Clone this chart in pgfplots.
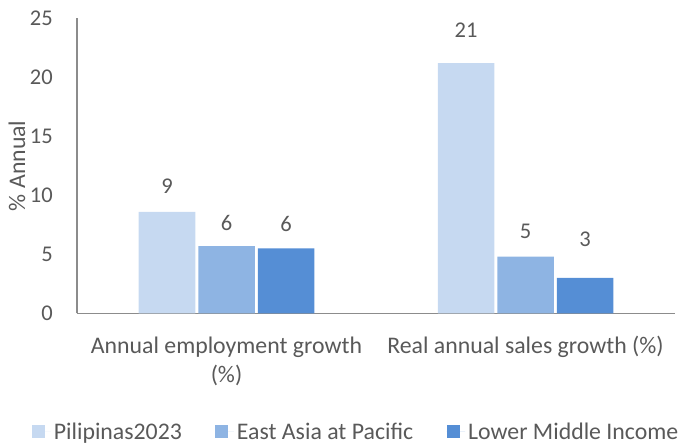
\documentclass[border=0pt]{standalone}
\usepackage{fontspec}
\setmainfont{Carlito}
\usepackage{pgfplots}
\usepackage{pgfplotstable}
\pgfplotsset{compat=1.18}
\usetikzlibrary{calc}
\definecolor{pil}{HTML}{C6D9F1}
\definecolor{eap}{HTML}{8EB4E3}
\definecolor{lmi}{HTML}{558ED5}
\definecolor{txt}{HTML}{595959}
\definecolor{axln}{HTML}{8C8C8C}

% x = category, y = value, dy = label baseline above bar top (bp)
\pgfplotstableread{
x y lbl dy
0 8.6 9 18
1 21.2 21 26
}\pilData
\pgfplotstableread{
x y lbl dy
0 5.7 6 16
1 4.8 5 17.7
}\eapData
\pgfplotstableread{
x y lbl dy
0 5.5 6 17
1 3.0 3 31.6
}\lmiData

\newcommand{\txtfont}{\fontsize{23.8bp}{29bp}\selectfont}
\newcommand{\numfont}{\fontsize{22.5bp}{27bp}\selectfont}

\begin{document}
\begin{tikzpicture}
\begin{axis}[
    scale only axis,
    width=598bp, height=295bp,
    ybar=3bp, bar width=56.5bp,
    xmin=-0.5, xmax=1.5,
    ymin=0, ymax=25,
    axis x line=bottom, axis y line=left,
    axis line style={draw=axln, line width=1.2bp, -},
    major tick length=0pt,
    xtick={0,1},
    xticklabels={{Annual employment growth\\(\%)},{Real annual sales growth (\%)}},
    xticklabel style={font=\txtfont, text=txt, align=center, anchor=north, inner sep=0pt, yshift=-23bp},
    ytick={0,5,...,25},
    yticklabel style={font=\numfont, text=txt, anchor=east, inner sep=0pt, xshift=-24bp},
    /pgf/number format/assume math mode=true,
    ylabel={\% Annual},
    every axis y label/.style={at={(rel axis cs:0,0.5)}, xshift=-60bp, rotate=90, anchor=center, font=\txtfont, text=txt},
    point meta=explicit symbolic,
    visualization depends on={\thisrow{dy}\as\dy},
    nodes near coords,
    every node near coord/.append style={font=\numfont, text=txt, anchor=base, inner sep=0pt, yshift=\dy*1bp},
    legend columns=3,
    legend style={draw=none, fill=none, at={(rel axis cs:-0.075,-0.402)}, anchor=west,
        inner sep=0pt, font=\txtfont, text=txt,
        nodes={inner xsep=3bp, inner ysep=0pt},
        /tikz/every even column/.append style={column sep=30.5bp}},
    legend cell align=left,
    legend image code/.code={\fill[#1] (0bp,-6.5bp) rectangle (13bp,6.5bp); \path (0bp,0bp) -- (18.5bp,0bp);},
]
\addplot[fill=pil, draw=none] table[x=x, y=y, meta=lbl] {\pilData};
\addplot[fill=eap, draw=none] table[x=x, y=y, meta=lbl] {\eapData};
\addplot[fill=lmi, draw=none] table[x=x, y=y, meta=lbl] {\lmiData};
\legend{Pilipinas2023, East Asia at Pacific, Lower Middle Income}
\path (rel axis cs:0,0) coordinate (o);
\end{axis}
\pgfresetboundingbox
\useasboundingbox ($(o)+(-77bp,-131.7bp)$) rectangle ($(o)+(601bp,313.3bp)$);
\end{tikzpicture}
\end{document}
